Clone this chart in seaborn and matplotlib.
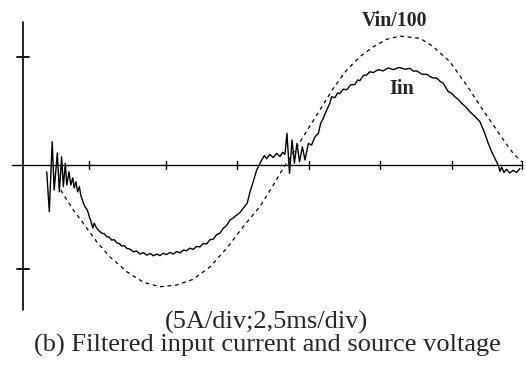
import pandas as pd
import seaborn as sns
import matplotlib.pyplot as plt

# time in ms (2.5 ms/div), values in A (5 A/div)
t_iin = [
    0.83, 0.92, 1.02, 1.09, 1.20, 1.27, 1.35, 1.41, 1.48, 1.53,
    1.61, 1.67, 1.74, 1.79, 1.85, 1.91, 1.97, 2.02, 2.11, 2.17,
    2.25, 2.32, 2.38, 2.44, 2.49, 2.55, 2.63, 2.75, 2.84, 2.93,
    3.02, 3.10, 3.19, 3.28, 3.37, 3.45, 3.54, 3.63, 3.75, 3.86,
    3.97, 4.09, 4.21, 4.33, 4.45, 4.56, 4.67, 4.79, 4.90, 5.02,
    5.14, 5.25, 5.37, 5.49, 5.61, 5.72, 5.84, 5.95, 6.07, 6.19,
    6.30, 6.42, 6.54, 6.65, 6.77, 6.88, 7.00, 7.12, 7.24, 7.35,
    7.47, 7.58, 7.70, 7.84, 7.94, 8.05, 8.17, 8.24, 8.35, 8.44,
    8.52, 8.63, 8.75, 8.87, 8.99, 9.08, 9.16, 9.23, 9.32, 9.41,
    9.49, 9.58, 9.67, 9.77, 9.86, 9.98, 10.09, 10.21, 10.33, 10.41,
    10.50, 10.62, 10.73, 10.79, 10.91, 11.00, 11.08, 11.20, 11.32, 11.46,
    11.61, 11.70, 11.78, 11.90, 12.02, 12.13, 12.25, 12.42, 12.60, 12.77,
    12.95, 13.15, 13.36, 13.53, 13.65, 13.77, 13.95, 14.12, 14.30, 14.47,
    14.58, 14.70, 14.87, 14.98, 15.10, 15.22, 15.34, 15.48, 15.63, 15.80,
    15.98, 16.15, 16.27, 16.39, 16.50, 16.62, 16.68, 16.74, 16.82, 16.91,
    17.02, 17.14, 17.26, 17.38,
]
iin = [
    -0.32, -2.20, 1.10, -1.18, 0.57, -1.26, 0.39, -1.02, 0.09, -0.94,
    -0.32, -0.94, -0.61, -1.08, -0.79, -1.26, -1.02, -1.42, -1.79, -1.97,
    -2.12, -2.44, -2.67, -2.97, -2.74, -2.91, -3.07, -3.21, -3.24, -3.38,
    -3.40, -3.54, -3.52, -3.67, -3.70, -3.82, -3.80, -3.93, -3.97, -4.09,
    -4.05, -4.20, -4.13, -4.25, -4.17, -4.28, -4.20, -4.27, -4.16, -4.22,
    -4.12, -4.20, -4.08, -4.14, -4.01, -4.04, -3.92, -3.98, -3.84, -3.86,
    -3.70, -3.72, -3.52, -3.50, -3.28, -3.22, -2.99, -2.85, -2.59, -2.50,
    -2.36, -2.25, -2.04, -1.80, -1.26, -0.79, -0.24, -0.05, 0.24, 0.45,
    0.30, 0.50, 0.35, 0.55, 0.40, 0.60, 0.50, 1.50, -0.39, 1.18,
    0.09, 1.02, 0.16, 0.86, 0.24, 1.02, 0.94, 1.33, 1.50, 1.97,
    2.20, 2.59, 2.91, 3.22, 3.18, 3.40, 3.36, 3.58, 3.55, 3.78,
    3.80, 4.01, 3.98, 4.22, 4.25, 4.40, 4.36, 4.50, 4.44, 4.58,
    4.50, 4.60, 4.52, 4.56, 4.43, 4.44, 4.28, 4.28, 4.12, 4.10,
    3.95, 3.85, 3.46, 3.40, 3.22, 3.10, 2.91, 2.75, 2.51, 2.30,
    2.04, 1.50, 1.02, 0.63, 0.32, 0.00, -0.30, -0.10, -0.35, -0.20,
    -0.38, -0.25, -0.35, -0.16,
]

t_vin = [
    1.32, 1.76, 2.11, 2.58, 3.04, 3.63, 4.21, 4.79, 5.37, 5.95,
    6.54, 7.12, 7.70, 8.29, 8.75, 9.10, 9.51, 9.92, 10.38, 10.85,
    11.32, 11.78, 12.25, 12.72, 13.18, 13.88, 14.35, 14.93, 15.51, 16.09,
    16.68, 17.14, 17.44,
]
vin_100 = [
    -1.18, -2.12, -2.75, -3.62, -4.33, -5.03, -5.53, -5.74, -5.66, -5.39,
    -4.80, -3.93, -2.91, -1.95, -0.95, -0.15, 0.70, 1.60, 2.59, 3.62,
    4.48, 5.11, 5.58, 5.93, 6.08, 5.98, 5.58, 4.87, 3.77, 2.59,
    1.42, 0.55, 0.16,
]

x_ticks = [2.3, 5.0, 7.5, 10.0, 12.5, 15.0, 17.45]
y_ticks = [5.1, -4.9]

df_iin = pd.DataFrame({"t": t_iin, "i": iin})
df_vin = pd.DataFrame({"t": t_vin, "v": vin_100})

sns.set_style("white")
plt.rcParams["font.family"] = ["Liberation Serif", "DejaVu Serif"]

fig = plt.figure(figsize=(5.26, 3.68), dpi=100)
ax = fig.add_axes([12 / 526, 56 / 368, 514 / 526, 292 / 368])

sns.lineplot(data=df_vin, x="t", y="v", sort=False, ax=ax,
             color="black", linewidth=0.9)
ax.lines[-1].set_dashes([3, 3])
sns.lineplot(data=df_iin, x="t", y="i", sort=False, ax=ax,
             color="black", linewidth=1.0)

# scope axes
ax.plot([-0.385, 17.45], [0, 0], color="black", linewidth=1.0)
ax.plot([0, 0], [-6.84, 6.75], color="black", linewidth=1.2)
for yt in y_ticks:
    ax.plot([-0.2, 0.21], [yt, yt], color="black", linewidth=1.3)
for xt in x_ticks:
    ax.plot([xt, xt], [-0.2, 0.2], color="black", linewidth=1.0)

ax.set_xlim(-0.385, 17.59)
ax.set_ylim(-6.93, 6.84)
ax.axis("off")

ax.text(13.0, 6.8, "Vin/100", fontsize=14.3, fontweight="bold",
        ha="center", va="center")
ax.text(13.25, 3.6, "Iin", fontsize=14.5, fontweight="bold",
        ha="center", va="center")

fig.text(266.5 / 526, 1 - 322 / 368, "(5A/div;2,5ms/div)", fontsize=19,
         ha="center", va="center")
fig.text(267.5 / 526, 1 - 345 / 368, "(b) Filtered input current and source voltage",
         fontsize=19, ha="center", va="center")

fig.savefig("out.png", dpi=100, facecolor="white")
